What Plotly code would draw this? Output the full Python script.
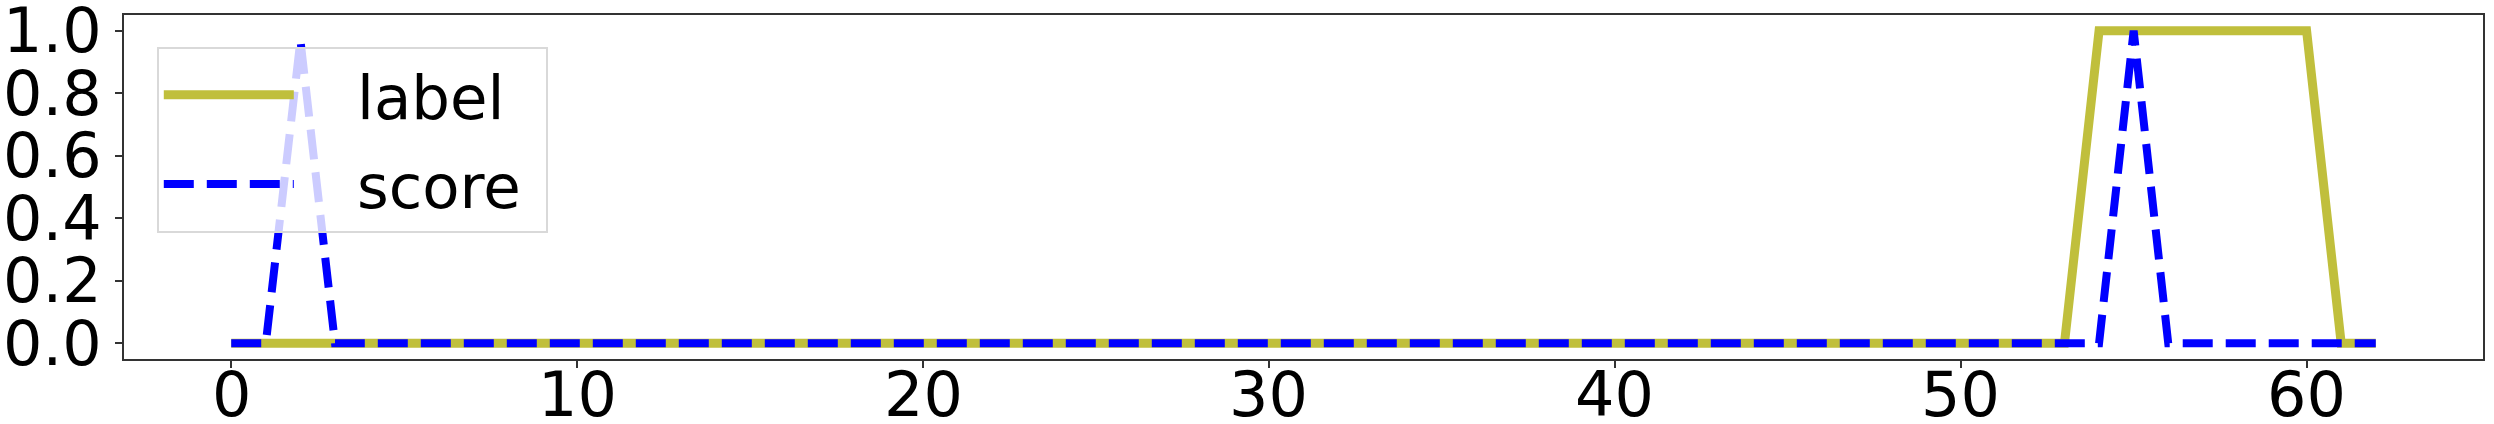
import plotly.graph_objects as go

# time steps
steps = list(range(63))

# ground truth label (1 = anomaly window)
label = [0] * 54 + [1] * 7 + [0] * 2

# model score
score = [0, 0, 0.97] + [0] * 52 + [1.0] + [0] * 7

# tick positions / labels
x_ticks = [0, 10, 20, 30, 40, 50, 60]
y_ticks = [0.0, 0.2, 0.4, 0.6, 0.8, 1.0]

pad = '\u00a0'
tick_font = dict(family='DejaVu Sans', size=62, color='black')

fig = go.Figure()
fig.add_trace(go.Scatter(
    x=steps, y=label, name=pad * 3 + 'label' + pad, mode='lines',
    line=dict(color='#c0bf3c', width=9),
    legendgroup='a',
))
fig.add_trace(go.Scatter(
    x=steps, y=score, name=pad * 3 + 'score' + pad, mode='lines',
    line=dict(color='#0000ff', width=8, dash='30px,13px'),
    legendgroup='b',
))

axis_common = dict(
    showgrid=False, zeroline=False, automargin=False,
    showline=True, linecolor='#333333', linewidth=2, mirror=True,
    ticks='outside', ticklen=7, tickwidth=1.5, tickcolor='#333333',
    showticklabels=False,
)

fig.update_xaxes(range=[-3.1, 65.1], tickvals=x_ticks, **axis_common)
fig.update_yaxes(range=[-0.05, 1.05], tickvals=y_ticks, **axis_common)

# tick labels as text placed on the axis scales (plotly puts them too far off)
for v in x_ticks:
    fig.add_annotation(x=v, xref='x', y=0, yref='paper', text=str(v),
                       showarrow=False, yanchor='top', xanchor='center',
                       yshift=3, font=tick_font)
for v in y_ticks:
    fig.add_annotation(x=0, xref='paper', y=v, yref='y', text=f'{v:.1f}',
                       showarrow=False, xanchor='right', yanchor='middle',
                       xshift=-20, font=tick_font)

fig.update_layout(
    width=2494, height=424,
    margin=dict(l=124, r=11, t=15, b=65),
    plot_bgcolor='white', paper_bgcolor='white',
    legend=dict(
        x=0.0139, y=0.908, xanchor='left', yanchor='top',
        bgcolor='rgba(255,255,255,0.8)', bordercolor='#d9d9d9', borderwidth=2,
        font=dict(family='DejaVu Sans', size=61, color='black'),
        itemwidth=130, tracegroupgap=7,
    ),
)

# page body has a default margin; drop it so the figure sits at the corner
fig.write_html("out.html", config={'displayModeBar': False},
               post_script="document.body.style.margin='0';")
